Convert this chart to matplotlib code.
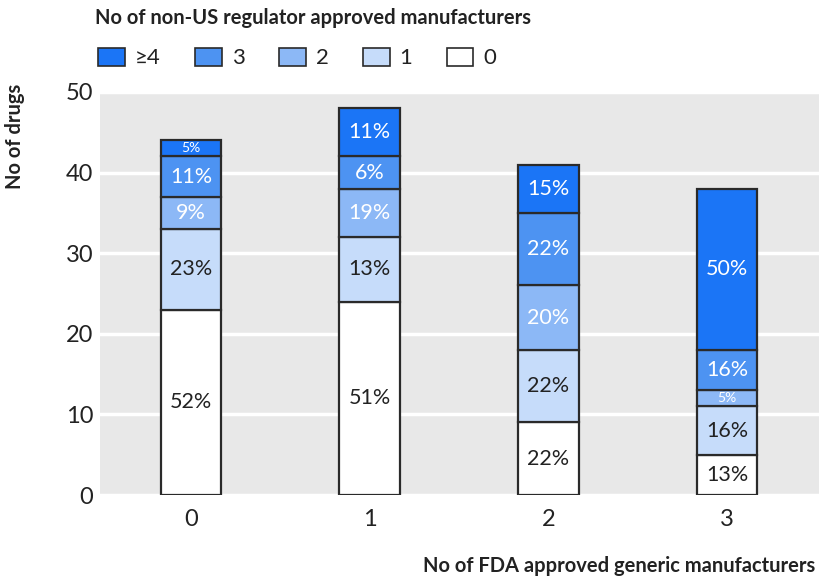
import matplotlib.pyplot as plt
from matplotlib.patches import Patch

plt.rcParams['font.family'] = ['Lato', 'DejaVu Sans']

groups = ['0', '1', '2', '3']
tiers = ['0', '1', '2', '3', '≥4']  # bottom to top
counts = {
    '0': [23, 24, 9, 5],
    '1': [10, 8, 9, 6],
    '2': [4, 6, 8, 2],
    '3': [5, 4, 9, 5],
    '≥4': [2, 6, 6, 20],
}
pct_labels = {
    '0': ['52%', '51%', '22%', '13%'],
    '1': ['23%', '13%', '22%', '16%'],
    '2': ['9%', '19%', '20%', '5%'],
    '3': ['11%', '6%', '22%', '16%'],
    '≥4': ['5%', '11%', '15%', '50%'],
}
colors = {'0': '#ffffff', '1': '#c6dcfa', '2': '#8cb8f6', '3': '#4d93f2', '≥4': '#1b75f6'}
text_colors = {'0': '#222222', '1': '#222222', '2': 'white', '3': 'white', '≥4': 'white'}

fig = plt.figure(figsize=(8.2, 5.84), dpi=100)
ax = fig.add_axes([100 / 820, 1 - 495 / 584, 720 / 820, (495 - 92) / 584])
ax.set_facecolor('#e8e8e8')

x = list(range(len(groups)))
bottom = [0] * len(groups)
for t in tiers:
    vals = counts[t]
    ax.bar(x, vals, bottom=bottom, width=0.34, color=colors[t], edgecolor='#2a2a2a',
           linewidth=1.6, zorder=3)
    for i, v in enumerate(vals):
        fs = 10 if v <= 2 else 15.5
        ax.text(x[i], bottom[i] + v / 2, pct_labels[t][i], ha='center', va='center',
                color=text_colors[t], fontsize=fs, zorder=4)
    bottom = [b + v for b, v in zip(bottom, vals)]

ax.set_xlim(-0.51, 3.52)
ax.set_ylim(0, 50)
ax.set_yticks([0, 10, 20, 30, 40, 50])
ax.set_xticks(x)
ax.set_xticklabels(groups)
ax.yaxis.grid(True, color='white', linewidth=2.5, zorder=0)
ax.set_axisbelow(True)
for s in ax.spines.values():
    s.set_visible(False)
ax.tick_params(length=0, labelsize=17, colors='#222222')
ax.tick_params(axis='y', pad=5)
ax.tick_params(axis='x', pad=10)

lab = dict(fontsize=14.5, fontweight='bold', color='#222222')
fig.text(15 / 820, 1 - 84 / 584, 'No of drugs', rotation=90, ha='center', va='top', **lab)
fig.text(815 / 820, 1 - 566 / 584, 'No of FDA approved generic manufacturers', ha='right',
         va='center', **lab)
fig.text(95 / 820, 1 - 18 / 584, 'No of non-US regulator approved manufacturers', ha='left',
         va='center', **lab)

handles = [Patch(facecolor=colors[t], edgecolor='#2a2a2a', linewidth=1.2) for t in tiers[::-1]]
fig.legend(handles, tiers[::-1], loc='center left', bbox_to_anchor=(78 / 820, 1 - 58 / 584),
           ncol=5, frameon=False, fontsize=16, handlelength=1.2, handleheight=0.9,
           handletextpad=0.45, columnspacing=1.55, labelcolor='#222222')

fig.savefig('out.png', dpi=100)
